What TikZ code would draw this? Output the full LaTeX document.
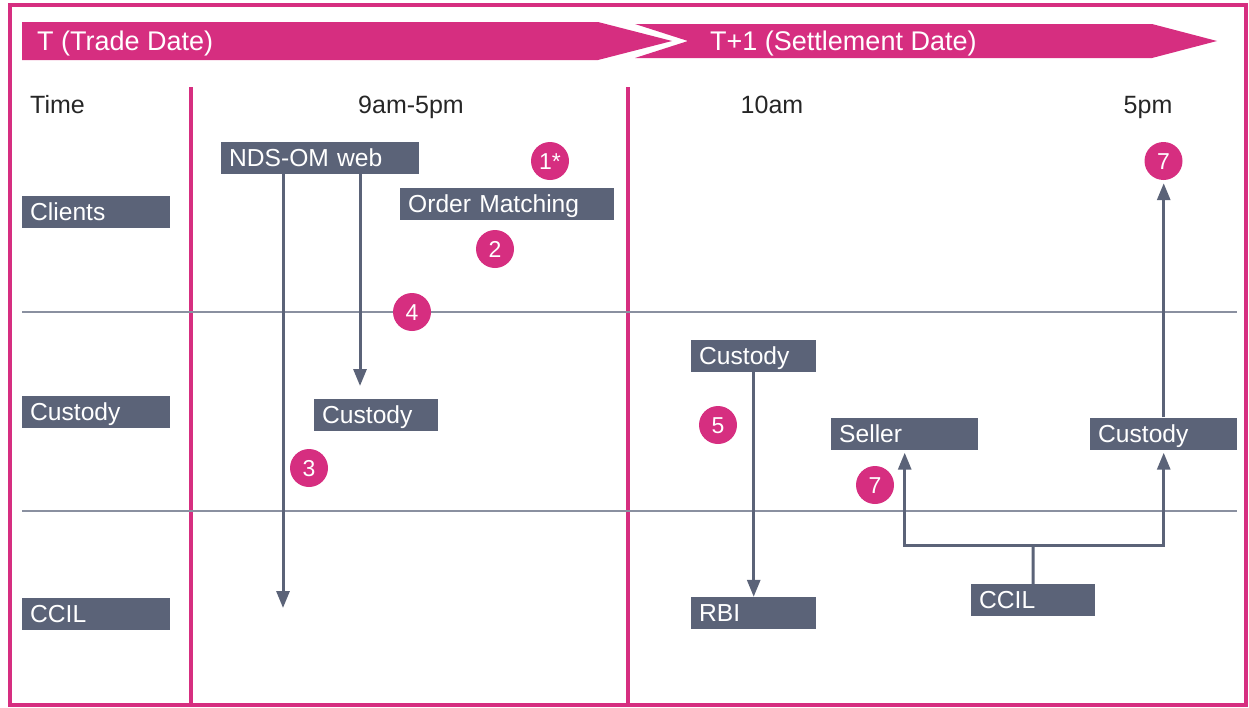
\documentclass[tikz,border=0pt]{standalone}
\usepackage{fontspec}
\setmainfont{Liberation Sans}
\usetikzlibrary{positioning,arrows.meta}
\definecolor{tpink}{HTML}{D62E80}
\definecolor{tgray}{HTML}{5B6378}
\definecolor{tline}{HTML}{8A90A0}

\begin{document}
\begin{tikzpicture}[
  x=1pt, y=-1pt,
  mybox/.style={fill=tgray,text=white,anchor=west,align=left,inner xsep=8pt,inner ysep=0pt,minimum height=32pt,text height=17pt,text depth=0pt,font=\fontsize{24.6}{25}\selectfont},
  mynum/.style={circle,fill=tpink,text=white,minimum size=38pt,inner sep=0pt,text height=16pt,text depth=0pt,font=\fontsize{23}{23}\selectfont},
  myhead/.style={text=black!85,inner sep=0pt,text height=17pt,text depth=0pt,font=\fontsize{25}{25}\selectfont},
  mybanner/.style={text=white,anchor=west,inner sep=0pt,text height=19pt,text depth=0pt,font=\fontsize{27}{27}\selectfont},
  myarrow/.style={draw=tgray,line width=3pt,-{Triangle[length=17pt,width=13pt]}},
  mylink/.style={draw=tgray,line width=3pt}
]
\useasboundingbox (0,0) rectangle (1249,707);

% frame and day banners
\draw[tpink,line width=3.5pt] (10,5) rectangle (1246,705);
\fill[tpink] (22,22) -- (598,22) -- (672,41) -- (598,60) -- (22,60) -- cycle;
\fill[tpink] (635,24) -- (1152,24) -- (1217,41) -- (1152,58) -- (635,58) -- (688,41) -- cycle;
\node[mybanner] (tdate) at (37,41) {T (Trade Date)};
\node[mybanner] (sdate) at (710,41) {T+1 (Settlement Date)};

% time columns and rows
\draw[tpink,line width=4pt] (191,87) -- (191,705);
\draw[tpink,line width=4pt] (628,87) -- (628,705);
\draw[tline,line width=1.5pt] (22,312) -- (1237,312);
\draw[tline,line width=1.5pt] (22,511) -- (1237,511);

\node[myhead,anchor=west] (time) at (30,105) {Time};
\node[myhead] (slota) at (411,105) {9am-5pm};
\node[myhead] (slotb) at (772,105) {10am};
\node[myhead] (slotc) at (1148,105) {5pm};

% participants
\node[mybox,text width=132pt] (clients) at (22,211.5) {Clients};
\node[mybox,text width=132pt] (custody) at (22,411.5) {Custody};
\node[mybox,text width=132pt] (ccil) at (22,613.5) {CCIL};
\node[mybox,text width=182pt] (ndsom) at (221,157.5) {NDS-OM web};
\node[mybox,text width=198pt] (ordmatch) at (400,204) {Order Matching};
\node[mybox,text width=108pt] (custa) at (314,415) {Custody};
\node[mybox,text width=109pt] (custb) at (691,355.5) {Custody};
\node[mybox,text width=109pt] (rbi) at (691,613) {RBI};
\node[mybox,text width=131pt] (seller) at (831,433.5) {Seller};
\node[mybox,text width=131pt] (custc) at (1090,433.5) {Custody};
\node[mybox,text width=108pt] (ccilb) at (971,600) {CCIL};

% steps
\node[mynum] (n1) at (550,161) {1*};
\node[mynum] (n2) at (495,249) {2};
\node[mynum] (n4) at (412,312) {4};
\node[mynum] (n3) at (309,468) {3};
\node[mynum] (n5) at (718,425) {5};
\node[mynum] (n7a) at (875,485) {7};
\node[mynum] (n7b) at (1163.5,161) {7};

% flows
\coordinate (endc) at (283,608);
\coordinate (endb) at (360,386);
\coordinate (fork) at (1033,545);
\draw[myarrow] (ndsom.south -| endc) -- (endc);
\draw[myarrow] (ndsom.south -| endb) -- (endb);
\draw[myarrow] (custb.south) -- (rbi.north);
\draw[mylink] (ccilb.north) -- (fork);
\draw[myarrow,shorten >=3pt] (fork) -| (seller.south);
\draw[myarrow,shorten >=3pt] (fork) -| (custc.south);
\draw[myarrow,shorten >=3pt] (custc.north) -- (custc.north |- n7b.south);
\end{tikzpicture}
\end{document}
